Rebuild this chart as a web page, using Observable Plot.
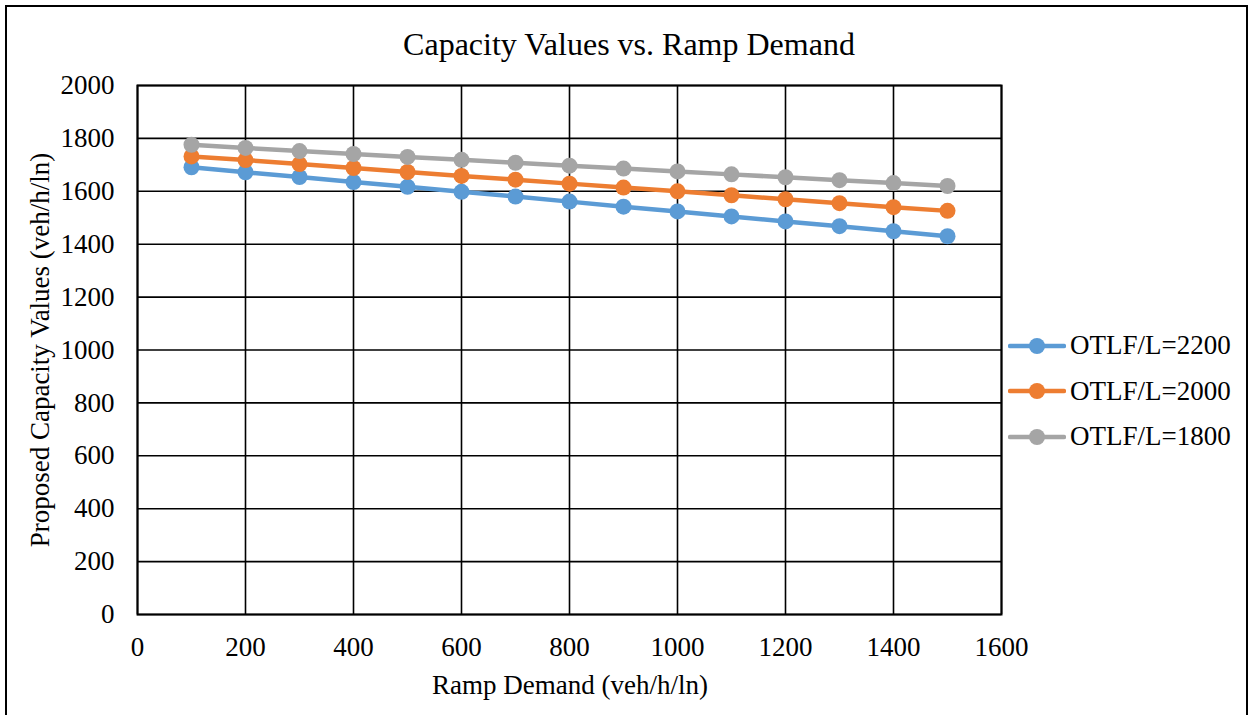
<!DOCTYPE html>
<html>
<head>
<meta charset="utf-8">
<script src="https://cdn.jsdelivr.net/npm/d3@7"></script>
<script src="https://cdn.jsdelivr.net/npm/@observablehq/plot@0.6"></script>
<style>
  html, body { margin: 0; padding: 0; background: #fff; overflow: hidden; }
  #wrap { position: relative; width: 1254px; height: 715px; font-family: "Liberation Serif", "Times New Roman", serif; color: #000; }
  #border { position: absolute; left: 5px; top: 5px; width: 1243px; height: 730px; border: 2px solid #000; box-sizing: border-box; }
  #chart { position: absolute; left: 0; top: 0; }
  #chart svg, #chart svg text { font-family: "Liberation Serif", "Times New Roman", serif !important; }
  #chart svg text { font-size: 27px; fill: #000; }
  .lbl { position: absolute; line-height: 1; white-space: nowrap; }
  #title { font-size: 32px; left: 629px; top: 28px; transform: translateX(-50%); }
  #xtitle { font-size: 27px; left: 570px; top: 672px; transform: translateX(-50%); }
  #ytitle { font-size: 27px; left: 40px; top: 350px; transform: translate(-50%, -50%) rotate(-90deg); }
  #legend { position: absolute; left: 1008px; top: 323px; }
  .row { display: flex; align-items: center; height: 45.5px; }
  .row span { font-size: 27px; line-height: 1; margin-left: 4px; }
</style>
</head>
<body>
<div id="wrap">
  <div id="border"></div>
  <div id="chart"></div>
  <div id="title" class="lbl">Capacity Values vs. Ramp Demand</div>
  <div id="xtitle" class="lbl">Ramp Demand (veh/h/ln)</div>
  <div id="ytitle" class="lbl">Proposed Capacity Values (veh/h/ln)</div>
  <div id="legend"></div>
</div>
<script>
// ---- data ----
const rampDemand = [100, 200, 300, 400, 500, 600, 700, 800, 900, 1000, 1100, 1200, 1300, 1400, 1500];
const otlf2200 = [1691, 1672, 1654, 1635, 1617, 1598, 1580, 1561, 1542, 1524, 1505, 1486, 1468, 1449, 1430];
const otlf2000 = [1732, 1718, 1703, 1688, 1673, 1658, 1644, 1629, 1614, 1600, 1585, 1570, 1555, 1540, 1526];
const otlf1800 = [1776, 1764, 1752, 1741, 1730, 1719, 1708, 1697, 1686, 1675, 1664, 1653, 1642, 1631, 1620];
const seriesNames = ["OTLF/L=2200", "OTLF/L=2000", "OTLF/L=1800"];
const xTicks = [0, 200, 400, 600, 800, 1000, 1200, 1400, 1600];
const yTicks = [0, 200, 400, 600, 800, 1000, 1200, 1400, 1600, 1800, 2000];

// ---- styles ----
const seriesColors = ["#5B9BD5", "#ED7D31", "#A5A5A5"];
const font = "Liberation Serif";

const seriesValues = [otlf2200, otlf2000, otlf1800];
const rows = [];
seriesNames.forEach((name, i) => {
  rampDemand.forEach((x, j) => rows.push({series: name, x, y: seriesValues[i][j]}));
});

const chart = Plot.plot({
  width: 1254,
  height: 715,
  marginTop: 85,
  marginLeft: 137,
  marginRight: 253,
  marginBottom: 101,
  style: {fontFamily: font, background: "transparent", color: "#000"},
  x: {domain: [0, 1600], label: null},
  y: {domain: [0, 2000], label: null},
  color: {domain: seriesNames, range: seriesColors},
  marks: [
    Plot.gridX(xTicks, {stroke: "#000", strokeOpacity: 1, strokeWidth: 1.6}),
    Plot.gridY(yTicks, {stroke: "#000", strokeOpacity: 1, strokeWidth: 1.6}),
    Plot.frame({stroke: "#000", strokeWidth: 2}),
    Plot.axisX(xTicks, {tickSize: 0, tickPadding: 22, fontSize: 27, tickFormat: d => String(d), label: null}),
    Plot.axisY(yTicks, {tickSize: 0, tickPadding: 23, fontSize: 27, tickFormat: d => String(d), label: null}),
    Plot.line(rows, {x: "x", y: "y", z: "series", stroke: "series", strokeWidth: 4.5}),
    Plot.dot(rows, {x: "x", y: "y", fill: "series", r: 8, stroke: "none"})
  ]
});
document.getElementById("chart").appendChild(chart);

// ---- legend ----
const legend = d3.select("#legend");
seriesNames.forEach((name, i) => {
  const row = legend.append("div").attr("class", "row");
  const svg = row.append("svg").attr("width", 58).attr("height", 20);
  svg.append("line").attr("x1", 2).attr("x2", 56).attr("y1", 10).attr("y2", 10)
    .attr("stroke", seriesColors[i]).attr("stroke-width", 4.5).attr("stroke-linecap", "round");
  svg.append("circle").attr("cx", 29).attr("cy", 10).attr("r", 8).attr("fill", seriesColors[i]);
  row.append("span").text(name);
});
</script>
</body>
</html>
